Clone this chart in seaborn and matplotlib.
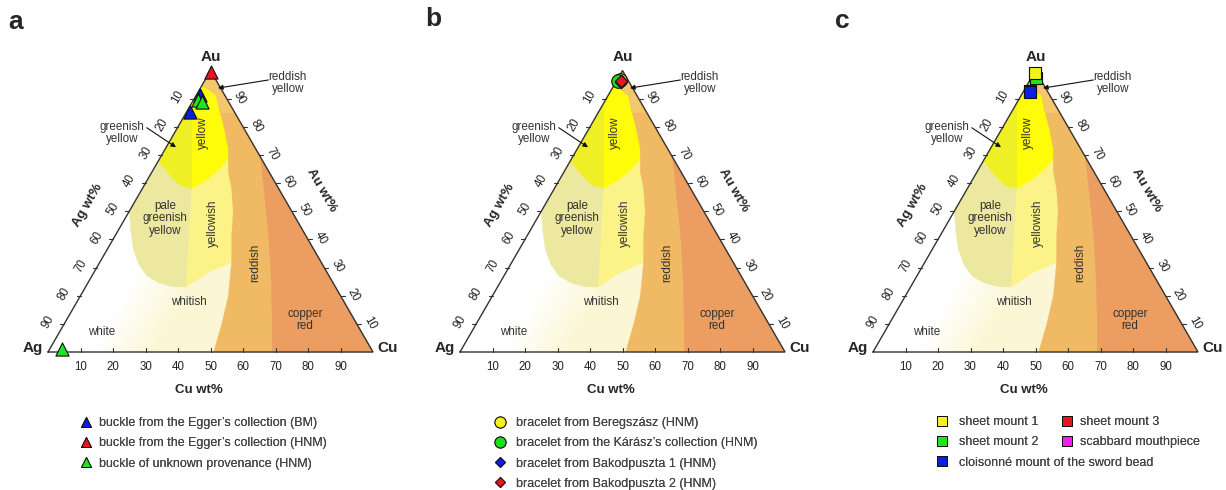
import numpy as np
import pandas as pd
import matplotlib
matplotlib.use('Agg')
import matplotlib.pyplot as plt
from matplotlib.patches import Polygon
from matplotlib.lines import Line2D
import seaborn as sns

# -------------------------------
# Data (all compositions in wt%)
# -------------------------------
tick_values = [10, 20, 30, 40, 50, 60, 70, 80, 90]

# colour zone boundaries (Cu wt%, Au wt%)
reddish_cu = [51, 48.5, 45.5, 40.5, 36, 32, 27.5, 23.5, 19.5, 14.5, 10.5, 6.2, 2.5, 0]
reddish_au = [0, 10, 20, 32, 41, 50, 58, 64, 72, 79.5, 85, 91.2, 93.5, 94.5]
copper_cu = [69, 64, 56.5, 46.7, 39.8, 32.8, 30.7]
copper_au = [0, 10, 24.5, 42.3, 54, 65.8, 69.3]
tip_cu = [0, 0, 15, 10.5, 6.2, 2.5]
tip_au = [94.5, 100, 85, 85, 91.2, 93.5]
yellow_cu = [0, 0, 30, 40, 21, 20.05, 18.25, 15.15, 10.95, 6.05]
yellow_au = [68, 100, 70, 55, 68.2, 64.7, 61.1, 58.2, 59.3, 62.9]
greenish_cu = [0, 6.05, 10.95, 15.15, 0]
greenish_au = [68, 62.9, 59.3, 58.2, 88.6]
pale_cu = [0, 6.05, 10.95, 15.15, 31, 27, 22, 17, 12.5, 8, 4, 0]
pale_au = [68, 62.9, 59.3, 58.2, 23.1, 23.2, 24.5, 27, 31, 36.5, 43, 50]
yellowish_cu = [15.15, 18.25, 20.05, 21, 40, 48, 40.95, 34.8, 31]
yellowish_au = [58.2, 61.1, 64.7, 68.2, 50, 32, 32.1, 28, 23.1]

# panel a
a_bm_cu, a_bm_au = [1.1, 1.0], [91.3, 85.4]
a_hnm_cu, a_hnm_au = [0.5], [99.4]
a_unk_cu, a_unk_au = [1.4, 3.0, 3.7], [89.5, 88.8, 1.0]
# panel b
b_bereg_cu, b_bereg_au = [1.0], [96.5]
b_karasz_cu, b_karasz_au = [0.5], [96.4]
b_bakod1_cu, b_bakod1_au = [1.5], [96.0]
b_bakod2_cu, b_bakod2_au = [1.2], [96.4]
# panel c
c_sm3_cu, c_sm3_au = [0.5], [98.5]
c_sm2_cu, c_sm2_au = [1.5], [97.3]
c_sm1_cu, c_sm1_au = [0.3], [99.1]
c_scab_cu, c_scab_au = [2.0], [92.6]
c_clois_cu, c_clois_au = [2.1], [92.4]

# -------------------------------
# Helpers
# -------------------------------
S = 325.0           # pixels per unit side
Y0 = 352.0          # pixel row of the base line
W, H = 1226, 490
SQ3 = np.sqrt(3)


def tern(cu, au):
    cu = np.asarray(cu, dtype=float) / 100
    au = np.asarray(au, dtype=float) / 100
    return cu + au / 2, au * SQ3 / 2


def zone(ax, cu, au, color, z):
    x, y = tern(cu, au)
    ax.add_patch(Polygon(np.column_stack([x, y]), closed=True, fc=color,
                         ec=color, lw=0.3, zorder=z))


def draw_background(ax):
    tri = Polygon([[0, 0], [1, 0], [0.5, SQ3 / 2]], closed=True, fc='#fbf7d4',
                  ec='none', zorder=1)
    ax.add_patch(tri)

    # white fading into whitish towards the Cu side
    gx = np.linspace(0, 1, 400)
    gy = np.linspace(0, SQ3 / 2, 350)
    XX, YY = np.meshgrid(gx, gy)
    cu = (XX - YY / SQ3) * 100
    alpha = np.clip((33 - cu) / 20, 0, 1)
    img = np.ones((len(gy), len(gx), 4))
    img[..., 3] = alpha
    im = ax.imshow(img, extent=(0, 1, 0, SQ3 / 2), origin='lower',
                   interpolation='bilinear', zorder=2, aspect='auto')
    clip = Polygon([[0, 0], [1, 0], [0.5, SQ3 / 2]], closed=True,
                   transform=ax.transData)
    im.set_clip_path(clip)

    zone(ax, pale_cu, pale_au, '#ede8a0', 3)
    zone(ax, yellowish_cu, yellowish_au, '#fcf388', 3)
    zone(ax, yellow_cu, yellow_au, '#fffc0a', 4)
    zone(ax, greenish_cu, greenish_au, '#eeef25', 5)
    zone(ax, reddish_cu + [0, 100], reddish_au + [100, 0], '#f0b963', 6)
    zone(ax, tip_cu, tip_au, '#f5c76d', 7)
    zone(ax, copper_cu + [100], copper_au + [0], '#eb9d62', 7)

    # outline
    ax.plot([0, 1, 0.5, 0], [0, 0, SQ3 / 2, 0], color='#333333', lw=1.0,
            zorder=8, solid_joinstyle='miter')

    tl = 4 / S
    for v in tick_values:
        ax.plot([v / 100, v / 100], [0, tl], color='#333333', lw=0.8, zorder=8)
        ax.text(v / 100, -15 / S, str(v), ha='center', va='center',
                fontsize=8.3, color='#222222')
        xl, yl = tern(0, 100 - v)
        ax.plot([xl - tl, xl], [yl, yl], color='#333333', lw=0.8, zorder=8)
        ax.text(xl - 16 / S, yl + 2 / S, str(v), ha='center', va='center',
                rotation=60, fontsize=8.3, color='#222222')
        xr, yr = tern(100 - v, v)
        ax.plot([xr, xr + tl], [yr, yr], color='#333333', lw=0.8, zorder=8)
        ax.text(xr + 13 / S, yr + 1 / S, str(v), ha='center', va='center',
                rotation=-60, fontsize=8.3, color='#222222')

    ax.text(0.5, 0.866 + 14 / S, 'Au', ha='center', va='center',
            fontsize=11, fontweight='bold')
    ax.text(-15 / S, 4 / S, 'Ag', ha='center', va='center',
            fontsize=11, fontweight='bold')
    ax.text(1 + 15 / S, 4 / S, 'Cu', ha='center', va='center',
            fontsize=11, fontweight='bold')
    ax.text(0.5 - 12 / S, -38 / S, 'Cu wt%', ha='center', va='center',
            fontsize=9.5, fontweight='bold')
    ax.text(0.25 - 42 / S, 0.433 + 6 / S, 'Ag wt%', ha='center', va='center',
            rotation=60, fontsize=9.5, fontweight='bold')
    ax.text(0.75 + 30 / S, 0.433 + 21 / S, 'Au wt%', ha='center', va='center',
            rotation=-60, fontsize=9.5, fontweight='bold')

    lab = dict(ha='center', va='center', fontsize=8.4, color='#333333', zorder=9,
               linespacing=1.05)
    ax.text(0.738, 0.828, 'reddish\nyellow', **lab)
    ax.text(0.228, 0.674, 'greenish\nyellow', **lab)
    ax.text(0.477, 0.674, 'yellow', rotation=90, **lab)
    ax.text(0.36, 0.411, 'pale\ngreenish\nyellow', **lab)
    ax.text(0.507, 0.396, 'yellowish', rotation=90, **lab)
    ax.text(0.637, 0.273, 'reddish', rotation=90, **lab)
    ax.text(0.432, 0.155, 'whitish', **lab)
    ax.text(0.165, 0.062, 'white', **lab)
    ax.text(0.791, 0.098, 'copper\nred', **lab)

    arrow = dict(arrowstyle='-|>', color='#111111', lw=0.8, mutation_scale=7,
                 shrinkA=0, shrinkB=0)
    ax.annotate('', xy=(0.523, 0.812), xytext=(0.678, 0.837),
                arrowprops=arrow, zorder=9)
    ax.annotate('', xy=(0.394, 0.630), xytext=(0.304, 0.690),
                arrowprops=arrow, zorder=9)


def points(ax, cu, au, marker, color, size):
    x, y = tern(cu, au)
    df = pd.DataFrame({'x': x, 'y': y})
    sns.scatterplot(data=df, x='x', y='y', ax=ax, marker=marker, color=color,
                    s=size, edgecolor='#111111', linewidth=0.8, zorder=10,
                    legend=False, clip_on=False)


def handle(marker, color, ms):
    return Line2D([], [], ls='none', marker=marker, ms=ms, mfc=color,
                  mec='#111111', mew=0.7)


def add_legend(fig, handles, labels, marker_x, top_y, pad):
    fs_px = 9 * 100 / 72
    left = marker_x - 0.5 * fs_px
    leg = fig.legend(handles, labels, loc='upper left',
                     bbox_to_anchor=(left / W, 1 - top_y / H),
                     bbox_transform=fig.transFigure, frameon=False,
                     fontsize=9, labelcolor='#444444', borderpad=0,
                     handlelength=1.0, handletextpad=pad, labelspacing=0.66,
                     borderaxespad=0)
    fig.add_artist(leg)
    return leg


# -------------------------------
# Figure
# -------------------------------
sns.set_theme(style='white')
plt.rcParams['font.family'] = ['Liberation Sans', 'DejaVu Sans']

fig = plt.figure(figsize=(W / 100, H / 100), dpi=100)

x0_list = [48, 460, 873]
left_list = [0, 409, 818]
right_list = [409, 818, 1226]
letters = ['a', 'b', 'c']
letter_px = [(16, 22), (433, 19), (842, 21)]
axes = []
for x0, l, r in zip(x0_list, left_list, right_list):
    ax = fig.add_axes([l / W, 0, (r - l) / W, 1])
    ax.set_xlim((l - x0) / S, (r - x0) / S)
    ax.set_ylim((Y0 - H) / S, Y0 / S)
    ax.axis('off')
    draw_background(ax)
    axes.append(ax)

for let, (px, py) in zip(letters, letter_px):
    fig.text(px / W, 1 - py / H, let, ha='center', va='center', fontsize=19,
             fontweight='bold')

# panel a
ax = axes[0]
points(ax, a_bm_cu, a_bm_au, '^', '#0a1ee6', 90)
points(ax, a_hnm_cu, a_hnm_au, '^', '#e8141e', 90)
points(ax, a_unk_cu, a_unk_au, '^', '#1ee61e', 90)
add_legend(fig,
           [handle('^', '#0a1ee6', 7.7), handle('^', '#e8141e', 7.7),
            handle('^', '#1ee61e', 7.7)],
           ["buckle from the Egger\u2019s collection (BM)",
            "buckle from the Egger\u2019s collection (HNM)",
            "buckle of unknown provenance (HNM)"],
           86, 417, 0.55)

# panel b
ax = axes[1]
points(ax, b_bereg_cu, b_bereg_au, 'o', '#f5f01e', 95)
points(ax, b_karasz_cu, b_karasz_au, 'o', '#1edc1e', 95)
points(ax, b_bakod1_cu, b_bakod1_au, 'D', '#0a1ee6', 40)
points(ax, b_bakod2_cu, b_bakod2_au, 'D', '#e8141e', 40)
add_legend(fig,
           [handle('o', '#f5f01e', 8), handle('o', '#1edc1e', 8),
            handle('D', '#0a1ee6', 5.5), handle('D', '#e8141e', 5.5)],
           ["bracelet from Beregszász (HNM)",
            "bracelet from the Kárász\u2019s collection (HNM)",
            "bracelet from Bakodpuszta 1 (HNM)",
            "bracelet from Bakodpuszta 2 (HNM)"],
           500, 417, 0.78)

# panel c
ax = axes[2]
points(ax, c_sm3_cu, c_sm3_au, 's', '#e8141e', 70)
points(ax, c_sm2_cu, c_sm2_au, 's', '#1ee61e', 70)
points(ax, c_sm1_cu, c_sm1_au, 's', '#f5f01e', 70)
points(ax, c_scab_cu, c_scab_au, 's', '#f01ef0', 65)
points(ax, c_clois_cu, c_clois_au, 's', '#0a1ee6', 65)
add_legend(fig,
           [handle('s', '#f5f01e', 7.5), handle('s', '#1ee61e', 7.5),
            handle('s', '#0a1ee6', 7.5)],
           ["sheet mount 1", "sheet mount 2",
            "cloisonné mount of the sword bead"],
           942, 416, 0.88)
add_legend(fig,
           [handle('s', '#e8141e', 7.5), handle('s', '#f01ef0', 7.5)],
           ["sheet mount 3", "scabbard mouthpiece"],
           1067, 416, 0.51)

fig.savefig('out.png', dpi=100)
